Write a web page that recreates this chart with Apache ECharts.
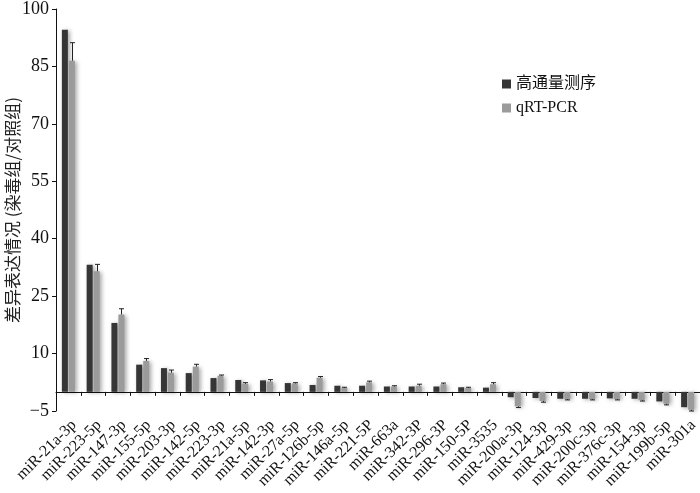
<!DOCTYPE html>
<html>
<head>
<meta charset="utf-8">
<script src="https://cdn.jsdelivr.net/npm/echarts@6/dist/echarts.min.js"></script>
<style>
  html, body { margin: 0; padding: 0; background: #fff; }
  #chart { width: 700px; height: 493px; }
</style>
</head>
<body>
<div id="chart"></div>
<script>
// categories (miRNA names)
const mirnas = [
  'miR-21a-3p', 'miR-223-5p', 'miR-147-3p', 'miR-155-5p', 'miR-203-3p', 'miR-142-5p',
  'miR-223-3p', 'miR-21a-5p', 'miR-142-3p', 'miR-27a-5p', 'miR-126b-5p', 'miR-146a-5p',
  'miR-221-5P', 'miR-663a', 'miR-342-3P', 'miR-296-3P', 'miR-150-5P', 'miR-3535',
  'miR-200a-3p', 'miR-124-3p', 'miR-429-3p', 'miR-200c-3p', 'miR-376c-3p', 'miR-154-3p',
  'miR-199b-5p', 'miR-301a'
]
// 高通量测序
const seqVals = [
  94.6, 33.2, 18.0, 7.1, 6.2, 4.9, 3.6, 3.1, 3.0, 2.3, 1.8, 1.6,
  1.6, 1.4, 1.4, 1.4, 1.2, 1.1, -1.4, -1.6, -1.8, -1.8, -1.7, -1.8,
  -2.5, -4.0
]
// qRT-PCR
const pcrVals = [
  86.5, 31.5, 20.2, 8.1, 5.0, 6.6, 4.2, 2.1, 2.7, 2.2, 3.7, 1.0,
  2.5, 1.4, 1.6, 2.0, 1.0, 2.0, -3.8, -2.4, -1.9, -1.9, -1.9, -2.2,
  -3.1, -4.7
]
// qRT-PCR error (away from zero)
const pcrErr = [
  4.7, 1.8, 1.5, 0.6, 0.7, 0.6, 0.2, 0.3, 0.5, 0.2, 0.3, 0.2,
  0.3, 0.2, 0.4, 0.3, 0.2, 0.4, 0.3, 0.3, 0.2, 0.2, 0.2, 0.2,
  0.3, 0.3
]
const yTicks = [-5, 10, 25, 40, 55, 70, 85, 100]

const BAR_W = 6
const BAR_GAP = 1
const serif = '"Liberation Serif", "Times New Roman", serif'

let chart = echarts.init(document.getElementById('chart'))

let barShadow = {
  shadowBlur: 4,
  shadowColor: 'rgba(0,0,0,0.35)',
  shadowOffsetX: 2,
  shadowOffsetY: 1
}

let option = {
  animation: false,
  grid: { left: 56, right: 0, top: 9, bottom: 82, outerBoundsMode: 'none', containLabel: false },
  legend: {
    orient: 'vertical',
    left: 497,
    top: 71,
    itemGap: 8,
    itemWidth: 9,
    itemHeight: 9,
    icon: 'rect',
    textStyle: { fontSize: 16, color: '#111', fontFamily: serif + ', "Noto Sans CJK SC"' },
    data: ['高通量测序', 'qRT-PCR']
  },
  xAxis: {
    type: 'category',
    data: mirnas,
    axisLine: { onZero: true, lineStyle: { color: '#111', width: 1 } },
    axisTick: { show: true, length: 4, inside: false, lineStyle: { color: '#111' } },
    axisLabel: {
      interval: 0,
      rotate: 45,
      margin: 6,
      fontSize: 16,
      color: '#111',
      fontFamily: serif,
      verticalAlign: 'top'
    }
  },
  yAxis: {
    type: 'value',
    min: -5,
    max: 100,
    name: '差异表达情况 (染毒组/对照组)',
    nameLocation: 'middle',
    nameRotate: 90,
    nameGap: 35,
    nameMoveOverlap: false,
    nameTextStyle: { fontSize: 17, color: '#222', fontFamily: '"Noto Sans CJK SC"' },
    axisLine: { show: true, lineStyle: { color: '#111', width: 1 } },
    axisTick: { show: true, length: 4, customValues: yTicks, lineStyle: { color: '#111' } },
    axisLabel: {
      customValues: yTicks,
      fontSize: 18,
      color: '#111',
      fontFamily: serif,
      margin: 7,
      formatter: v => String(v).replace('-', '\u2212')
    },
    splitLine: { show: false }
  },
  series: [
    {
      name: '高通量测序',
      type: 'bar',
      data: seqVals,
      barWidth: BAR_W,
      barGap: '17%',
      itemStyle: Object.assign({ color: '#363636' }, barShadow)
    },
    {
      name: 'qRT-PCR',
      type: 'bar',
      data: pcrVals,
      barWidth: BAR_W,
      itemStyle: Object.assign({ color: '#9b9b9b' }, barShadow)
    },
    {
      name: 'err',
      type: 'custom',
      data: pcrVals.map((v, i) => [i, v, v + Math.sign(v) * pcrErr[i]]),
      z: 5,
      renderItem: function (params, api) {
        let i = api.value(0)
        let p0 = api.coord([i, api.value(1)])
        let p1 = api.coord([i, api.value(2)])
        let x = Math.round(p0[0] + (BAR_W + BAR_GAP) / 2) + 0.5
        let cap = 2.5
        let style = { stroke: '#222', lineWidth: 1 }
        return {
          type: 'group',
          children: [
            { type: 'line', shape: { x1: x, y1: p0[1], x2: x, y2: p1[1] }, style: style },
            { type: 'line', shape: { x1: x - cap, y1: p1[1], x2: x + cap, y2: p1[1] }, style: style }
          ]
        }
      }
    }
  ]
}
chart.setOption(option)
</script>
</body>
</html>
